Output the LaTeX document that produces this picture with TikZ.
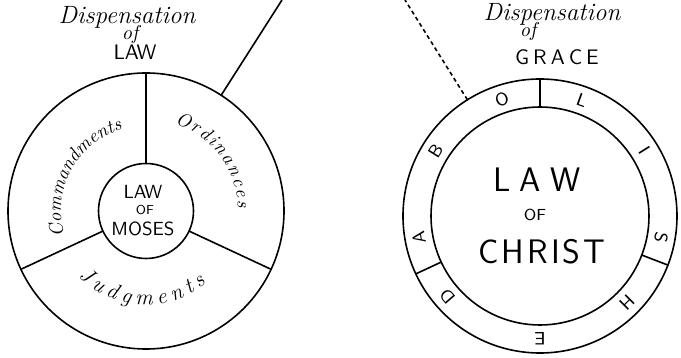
\documentclass[tikz,border=0pt]{standalone}
\usepackage{tikz}
\usetikzlibrary{calc,decorations.text}

\begin{document}
\begin{tikzpicture}[x=0.5pt,y=0.5pt,
  ring/.style={circle,draw,line width=0.8pt,inner sep=0pt,outer sep=0pt},
  wall/.style={line width=0.8pt},
  hand/.style={font=\fontsize{12.5}{14}\selectfont\itshape},
  caps/.style={font=\fontsize{#1}{#1}\selectfont\sffamily},
  ringletter/.style={font=\fontsize{9}{9}\selectfont\sffamily,inner sep=0pt}]
  \useasboundingbox (0,0) rectangle (681,358);
  % dispensation of law
  \coordinate (L) at (146,147);
  \node[ring,minimum size=138pt] (lawout) at (L) {};
  \node[ring,minimum size=47.5pt] (mosesin) at (L) {};
  \draw[wall] (mosesin.90) -- (lawout.90);
  \draw[wall] (mosesin.-25) -- (lawout.-25);
  \draw[wall] (mosesin.-155) -- (lawout.-155);
  \node[hand] (lawdisp) at (127,341) {Dispensation};
  \node[hand,font=\fontsize{10}{11}\selectfont\itshape] (lawof) at (130,323) {of};
  \node[caps=10.5] (lawname) at (135,306) {LAW};
  \node[caps=9.5] (mlaw) at (143,166) {LAW};
  \node[caps=6.5] (mof) at (145,148) {OF};
  \node[caps=9.5] (mmoses) at (143,129) {MOSES};
  \path[decorate,decoration={text along path,text align=fit to path,
    text={|\fontsize{9.5}{10}\selectfont\itshape|Commandments}}]
    ($(L)+(197:85)$) arc[start angle=197,end angle=106,radius=85];
  \path[decorate,decoration={text along path,text align=fit to path,
    text={|\fontsize{9.5}{10}\selectfont\itshape|Ordinances}}]
    ($(L)+(72:92)$) arc[start angle=72,end angle=2,radius=92];
  \path[decorate,decoration={text along path,text align=fit to path,
    text={|\fontsize{11}{12}\selectfont\itshape|Judgments}}]
    ($(L)+(-136:94)$) arc[start angle=-136,end angle=-50,radius=94];
  \coordinate (lawtop) at (282,358);
  \draw[wall] (lawout.57.6) -- (lawtop);
  % dispensation of grace
  \coordinate (R) at (540,142);
  \node[ring,minimum size=137pt] (christout) at (R) {};
  \node[ring,minimum size=109pt] (christin) at (R) {};
  \draw[wall] (christin.90) -- (christout.90);
  \draw[wall] (christin.-21) -- (christout.-21);
  \draw[wall] (christin.-155) -- (christout.-155);
  \node[hand] (gracedisp) at (552,344) {Dispensation};
  \node[hand,font=\fontsize{10}{11}\selectfont\itshape] (graceof) at (528,326) {of};
  \node[caps=10.5] (gracename) at (557,301) {G\kern2pt R\kern2pt A\kern2pt C\kern2pt E};
  \node[caps=17] (claw) at (537,178) {L\kern4.5pt A\kern4.5pt W};
  \node[caps=8] (cof) at (535,143) {OF};
  \node[caps=17] (cchrist) at (542,106) {C\kern1.5pt H\kern1.5pt R\kern1.5pt I\kern1.5pt S\kern1.5pt T};
  \foreach \a/\t in {190/A,148/B,108/O,70/L,32/I,-10/S,-45/H,-90/E,-139/D}
    \node[ringletter,rotate=\a-90] (ring\t) at ($(R)+(\a:123)$) {\t};
  \coordinate (gracetop) at (405,358);
  \draw[wall,dash pattern=on 2pt off 1.6pt] (christout.122) -- (gracetop);
\end{tikzpicture}
\end{document}
